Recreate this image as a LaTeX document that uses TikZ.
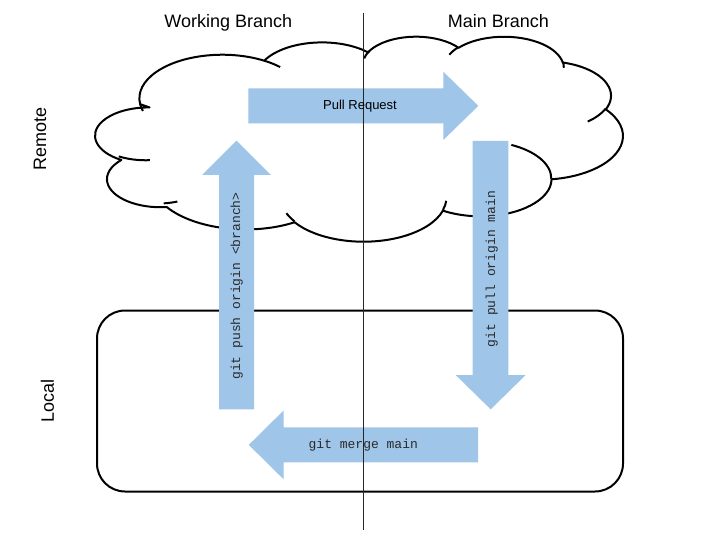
\documentclass[tikz,border=0pt]{standalone}
\usepackage{fontspec}
\setmainfont{Liberation Sans}
\setmonofont{Liberation Mono}
\definecolor{arrowblue}{HTML}{9FC5E8}
\definecolor{inkgray}{HTML}{2A2A2A}
\begin{document}
\begin{tikzpicture}[x=1pt,y=-1pt,
  header/.style={font=\fontsize{18}{20}\selectfont, text=black, inner sep=0pt},
  side/.style={font=\fontsize{18}{20}\selectfont, text=black, inner sep=0pt, rotate=90},
  cmd/.style={font=\ttfamily\fontsize{13}{15}\selectfont, text=inkgray, inner sep=0pt},
  prlabel/.style={font=\fontsize{13}{15}\selectfont, text=black, inner sep=0pt},
  blockarrow/.style={fill=arrowblue, draw=none},
  outline/.style={draw=black, line width=2pt},
  divider/.style={draw=black!85, line width=1pt},
]
\useasboundingbox (0,0) rectangle (720,540);

% ---------- cloud (remote) ----------
\begin{scope}[shift={(92.25,36.03)}, x=1.228pt, y=-0.4743pt]
\draw[outline, fill=white, line join=round] (39.00,143.70)
  arc[start angle=-187.75, end angle=-59.64, x radius=67.53, y radius=91.90]
  arc[start angle=-152.02, end angle=-45.44, x radius=53.33, y radius=72.67]
  arc[start angle=-153.49, end angle=-37.33, x radius=43.65, y radius=59.45]
  arc[start angle=-139.69, end angle=-10.21, x radius=48.57, y radius=65.95]
  arc[start angle=-74.77, end angle=23.21, x radius=53.33, y radius=72.73]
  arc[start angle=-37.54, end angle=81.86, x radius=67.75, y radius=92.20]
  arc[start angle=0.46, end angle=121.98, x radius=57.85, y radius=78.67]
  arc[start angle=16.84, end angle=146.24, x radius=67.52, y radius=92.15]
  arc[start angle=58.98, end angle=146.49, x radius=77.20, y radius=105.43]
  arc[start angle=-276.69, end angle=-136.89, x radius=43.60, y radius=59.18]
  arc[start angle=-239.64, end angle=-88.69, x radius=43.45, y radius=59.45]
  -- cycle;
\draw[outline] (46.93,261.77) arc[start angle=85.55, end angle=120.36, x radius=43.45, y radius=59.45];
\draw[outline] (69.28,348.99) arc[start angle=68.23, end angle=83.31, x radius=43.60, y radius=59.18];
\draw[outline] (164.78,390.90) arc[start angle=146.24, end angle=158.47, x radius=67.52, y radius=92.15];
\draw[outline] (288.27,347.51) arc[start angle=4.74, end angle=16.84, x radius=67.52, y radius=92.15];
\draw[outline] (341.29,229.54) arc[start angle=-64.03, end angle=0.46, x radius=57.85, y radius=78.67];
\draw[outline] (417.98,153.54) arc[start angle=23.21, end angle=49.64, x radius=53.33, y radius=72.73];
\draw[outline] (383.24,54.26) arc[start angle=-10.21, end angle=0.82, x radius=48.57, y radius=65.95];
\draw[outline] (290.78,39.52) arc[start angle=-156.29, end angle=-139.69, x radius=48.57, y radius=65.95];
\draw[outline] (221.41,47.20) arc[start angle=-167.73, end angle=-153.04, x radius=43.65, y radius=59.45];
\draw[outline] (140.00,51.92) arc[start angle=-59.64, end angle=-45.72, x radius=67.53, y radius=91.90];
\draw[outline] (41.27,157.89) arc[start angle=163.19, end angle=172.25, x radius=67.53, y radius=91.90];
\end{scope}

% ---------- local box ----------
\draw[outline, rounded corners=28pt] (97,310.5) rectangle (623,491.5);

% ---------- block arrows ----------
\fill[blockarrow] (248.3,88.3) -- (443.3,88.3) -- (443.3,71.7) -- (478.3,105.9)
  -- (443.3,140) -- (443.3,123.3) -- (248.3,123.3) -- cycle;
\fill[blockarrow] (219,409.3) -- (219,175) -- (202,175) -- (236.5,140.7)
  -- (271,175) -- (254,175) -- (254,409.3) -- cycle;
\fill[blockarrow] (472.7,141) -- (508.3,141) -- (508.3,375) -- (525.7,375)
  -- (490.7,409.3) -- (455.7,375) -- (472.7,375) -- cycle;
\fill[blockarrow] (478,427.3) -- (283.6,427.3) -- (283.6,410.5) -- (248.8,444.9)
  -- (283.6,479.3) -- (283.6,462.3) -- (478,462.3) -- cycle;

% ---------- divider ----------
\coordinate (divtop) at (363,12.7);
\coordinate (divbot) at (363,530);
\draw[divider] (divtop) -- (divbot);

% ---------- labels ----------
\node[header, anchor=base] (working) at (228.3,27.3) {Working Branch};
\node[header, anchor=base] (mainb) at (498.3,27.3) {Main Branch};
\node[side] (remote) at (40,139) {Remote};
\node[side] (local) at (47.5,401) {Local};
\node[prlabel] (pr) at (360,106) {Pull Request};
\node[cmd, rotate=90] (push) at (236.7,286) {git push origin <branch>};
\node[cmd, rotate=90] (pull) at (491.7,269) {git pull origin main};
\node[cmd] (merge) at (363.3,445) {git merge main};
\end{tikzpicture}
\end{document}
